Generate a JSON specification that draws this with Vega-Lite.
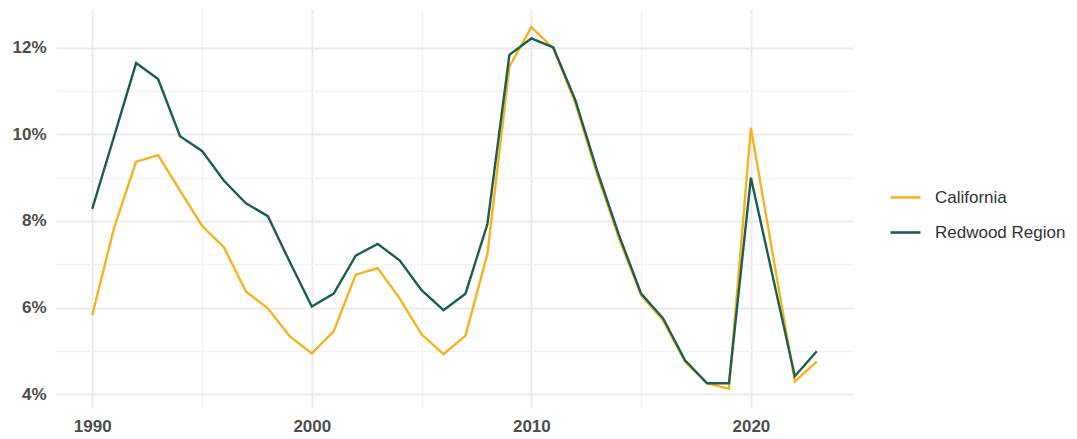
{
  "$schema": "https://vega.github.io/schema/vega-lite/v6.json",
  "autosize": {"type": "none"},
  "padding": {"left": 56, "top": 9, "right": 224, "bottom": 32},
  "width": 797,
  "height": 398,
  "background": "white",
  "config": {
    "view": {"stroke": null},
    "font": "Liberation Sans"
  },
  "data": {
    "values": [
      {"year": 1990, "series": "California", "rate": 5.82},
      {"year": 1991, "series": "California", "rate": 7.85},
      {"year": 1992, "series": "California", "rate": 9.37},
      {"year": 1993, "series": "California", "rate": 9.52},
      {"year": 1994, "series": "California", "rate": 8.70},
      {"year": 1995, "series": "California", "rate": 7.89},
      {"year": 1996, "series": "California", "rate": 7.39},
      {"year": 1997, "series": "California", "rate": 6.37},
      {"year": 1998, "series": "California", "rate": 5.98},
      {"year": 1999, "series": "California", "rate": 5.33},
      {"year": 2000, "series": "California", "rate": 4.94},
      {"year": 2001, "series": "California", "rate": 5.45},
      {"year": 2002, "series": "California", "rate": 6.76},
      {"year": 2003, "series": "California", "rate": 6.91},
      {"year": 2004, "series": "California", "rate": 6.21},
      {"year": 2005, "series": "California", "rate": 5.38},
      {"year": 2006, "series": "California", "rate": 4.92},
      {"year": 2007, "series": "California", "rate": 5.35},
      {"year": 2008, "series": "California", "rate": 7.24},
      {"year": 2009, "series": "California", "rate": 11.57},
      {"year": 2010, "series": "California", "rate": 12.48},
      {"year": 2011, "series": "California", "rate": 11.99},
      {"year": 2012, "series": "California", "rate": 10.73},
      {"year": 2013, "series": "California", "rate": 9.08},
      {"year": 2014, "series": "California", "rate": 7.59},
      {"year": 2015, "series": "California", "rate": 6.28},
      {"year": 2016, "series": "California", "rate": 5.70},
      {"year": 2017, "series": "California", "rate": 4.75},
      {"year": 2018, "series": "California", "rate": 4.25},
      {"year": 2019, "series": "California", "rate": 4.12},
      {"year": 2020, "series": "California", "rate": 10.15},
      {"year": 2022, "series": "California", "rate": 4.29},
      {"year": 2023, "series": "California", "rate": 4.75},
      {"year": 1990, "series": "Redwood Region", "rate": 8.28},
      {"year": 1991, "series": "Redwood Region", "rate": 9.96},
      {"year": 1992, "series": "Redwood Region", "rate": 11.65},
      {"year": 1993, "series": "Redwood Region", "rate": 11.28},
      {"year": 1994, "series": "Redwood Region", "rate": 9.96},
      {"year": 1995, "series": "Redwood Region", "rate": 9.62},
      {"year": 1996, "series": "Redwood Region", "rate": 8.93},
      {"year": 1997, "series": "Redwood Region", "rate": 8.41},
      {"year": 1998, "series": "Redwood Region", "rate": 8.11},
      {"year": 1999, "series": "Redwood Region", "rate": 7.05},
      {"year": 2000, "series": "Redwood Region", "rate": 6.02},
      {"year": 2001, "series": "Redwood Region", "rate": 6.32},
      {"year": 2002, "series": "Redwood Region", "rate": 7.20},
      {"year": 2003, "series": "Redwood Region", "rate": 7.47},
      {"year": 2004, "series": "Redwood Region", "rate": 7.09},
      {"year": 2005, "series": "Redwood Region", "rate": 6.40},
      {"year": 2006, "series": "Redwood Region", "rate": 5.94},
      {"year": 2007, "series": "Redwood Region", "rate": 6.32},
      {"year": 2008, "series": "Redwood Region", "rate": 7.93},
      {"year": 2009, "series": "Redwood Region", "rate": 11.84},
      {"year": 2010, "series": "Redwood Region", "rate": 12.22},
      {"year": 2011, "series": "Redwood Region", "rate": 12.01},
      {"year": 2012, "series": "Redwood Region", "rate": 10.80},
      {"year": 2013, "series": "Redwood Region", "rate": 9.16},
      {"year": 2014, "series": "Redwood Region", "rate": 7.66},
      {"year": 2015, "series": "Redwood Region", "rate": 6.32},
      {"year": 2016, "series": "Redwood Region", "rate": 5.75},
      {"year": 2017, "series": "Redwood Region", "rate": 4.78},
      {"year": 2018, "series": "Redwood Region", "rate": 4.25},
      {"year": 2019, "series": "Redwood Region", "rate": 4.25},
      {"year": 2020, "series": "Redwood Region", "rate": 9.00},
      {"year": 2022, "series": "Redwood Region", "rate": 4.41},
      {"year": 2023, "series": "Redwood Region", "rate": 4.99}
    ]
  },
  "mark": {"type": "line", "strokeWidth": 2.4},
  "encoding": {
    "x": {
      "field": "year",
      "type": "quantitative",
      "scale": {"domain": [1988.35, 2024.65], "nice": false, "zero": false},
      "axis": {
        "title": null,
        "domain": false,
        "ticks": false,
        "values": [1990, 1995, 2000, 2005, 2010, 2015, 2020],
        "labelExpr": "datum.value % 10 == 0 ? toString(datum.value) : ''",
        "labelFont": "Liberation Sans",
        "labelFontSize": 17,
        "labelFontWeight": "bold",
        "labelColor": "#4d4d4d",
        "labelPadding": 11,
        "labelFlush": false,
        "gridColor": {"condition": {"test": "datum.value % 10 == 0", "value": "#ebebeb"}, "value": "#f3f3f3"},
        "gridWidth": {"condition": {"test": "datum.value % 10 == 0", "value": 2}, "value": 1.4}
      }
    },
    "y": {
      "field": "rate",
      "type": "quantitative",
      "scale": {"domain": [3.70, 12.90], "nice": false, "zero": false},
      "axis": {
        "title": null,
        "domain": false,
        "ticks": false,
        "values": [4, 5, 6, 7, 8, 9, 10, 11, 12],
        "labelExpr": "datum.value % 2 == 0 ? datum.value + '%' : ''",
        "labelFont": "Liberation Sans",
        "labelFontSize": 17,
        "labelFontWeight": "bold",
        "labelColor": "#4d4d4d",
        "labelPadding": 10,
        "gridColor": {"condition": {"test": "datum.value % 2 == 0", "value": "#ebebeb"}, "value": "#f3f3f3"},
        "gridWidth": {"condition": {"test": "datum.value % 2 == 0", "value": 2}, "value": 1.4}
      }
    },
    "color": {
      "field": "series",
      "type": "nominal",
      "scale": {"domain": ["California", "Redwood Region"], "range": ["#F5B31F", "#1B5E52"]},
      "legend": {
        "title": null,
        "orient": "none",
        "legendX": 833,
        "legendY": 172,
        "padding": 0,
        "symbolType": "stroke",
        "symbolSize": 900,
        "symbolStrokeWidth": 2.6,
        "labelFont": "Liberation Sans",
        "labelFontSize": 17,
        "labelColor": "#333333",
        "labelOffset": 13,
        "rowPadding": 10
      }
    }
  }
}
